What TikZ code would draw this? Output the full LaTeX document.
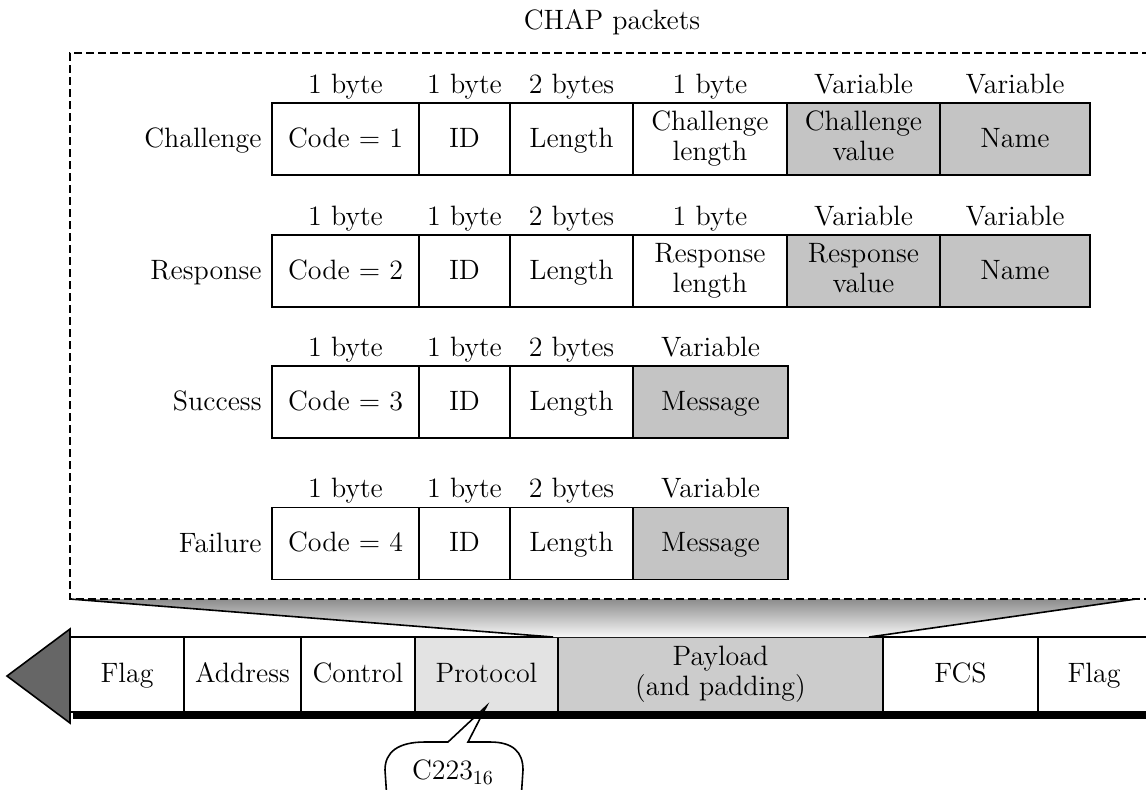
\documentclass[tikz,border=0pt]{standalone}
\usetikzlibrary{positioning}

\newcommand{\topstrut}{\rule{0pt}{11.5pt}}
\newcommand{\botstrut}{\rule[-3.5pt]{0pt}{3.5pt}}

\tikzstyle{field} = [rectangle, minimum height=36pt, inner sep=0pt, outer sep=0pt, text centered, align=center, draw=black, line width=0.8pt, fill=white, execute at begin node=\topstrut, execute at end node=\botstrut]
\tikzstyle{shaded} = [field, fill=black!23]
\tikzstyle{size} = [inner sep=0pt, text height=9.5pt, text depth=2.7pt]
\tikzstyle{rowname} = [inner sep=0pt, text height=9.5pt, text depth=2.7pt, yshift=-1pt]
\tikzstyle{frame} = [rectangle, minimum height=37.5pt, inner sep=0pt, outer sep=0pt, text centered, align=center, draw=black, line width=0.8pt, fill=white, execute at begin node=\topstrut, execute at end node=\botstrut]
\tikzstyle{dashbox} = [line width=0.9pt, dash pattern=on 4pt off 2pt]

\begin{document}
\begin{tikzpicture}[x=0.5pt, y=-0.5pt, font=\fontsize{14}{15}\selectfont]
    \useasboundingbox (0,0) rectangle (1146,789);
    \clip (0,0) rectangle (1146,789);

    \node (title) at (612,22) {CHAP packets};

    % Challenge
    \node (chCode)[field, minimum width=73.5pt] at (345.5,139) {Code = 1};
    \node (chID)[field, minimum width=45.5pt, right=0pt of chCode] {ID};
    \node (chLen)[field, minimum width=61.5pt, right=0pt of chID] {Length};
    \node (chClen)[field, minimum width=77pt, right=0pt of chLen] {Challenge\\length};
    \node (chCval)[shaded, minimum width=76.5pt, right=0pt of chClen] {Challenge\\value};
    \node (chName)[shaded, minimum width=75pt, right=0pt of chCval] {Name};
    \node (chTitle)[rowname, left=5pt of chCode] {Challenge};
    \node (chS1)[size, above=2pt of chCode] {1 byte};
    \node (chS2)[size, above=2pt of chID] {1 byte};
    \node (chS3)[size, above=2pt of chLen] {2 bytes};
    \node (chS4)[size, above=2pt of chClen] {1 byte};
    \node (chS5)[size, above=2pt of chCval] {Variable};
    \node (chS6)[size, above=2pt of chName] {Variable};

    % Response
    \node (reCode)[field, minimum width=73.5pt] at (345.5,271) {Code = 2};
    \node (reID)[field, minimum width=45.5pt, right=0pt of reCode] {ID};
    \node (reLen)[field, minimum width=61.5pt, right=0pt of reID] {Length};
    \node (reRlen)[field, minimum width=77pt, right=0pt of reLen] {Response\\length};
    \node (reRval)[shaded, minimum width=76.5pt, right=0pt of reRlen] {Response\\value};
    \node (reName)[shaded, minimum width=75pt, right=0pt of reRval] {Name};
    \node (reTitle)[rowname, left=5pt of reCode] {Response};
    \node (reS1)[size, above=2pt of reCode] {1 byte};
    \node (reS2)[size, above=2pt of reID] {1 byte};
    \node (reS3)[size, above=2pt of reLen] {2 bytes};
    \node (reS4)[size, above=2pt of reRlen] {1 byte};
    \node (reS5)[size, above=2pt of reRval] {Variable};
    \node (reS6)[size, above=2pt of reName] {Variable};

    % Success
    \node (suCode)[field, minimum width=73.5pt] at (345.5,402) {Code = 3};
    \node (suID)[field, minimum width=45.5pt, right=0pt of suCode] {ID};
    \node (suLen)[field, minimum width=61.5pt, right=0pt of suID] {Length};
    \node (suMsg)[shaded, minimum width=77.5pt, right=0pt of suLen] {Message};
    \node (suTitle)[rowname, left=5pt of suCode] {Success};
    \node (suS1)[size, above=2pt of suCode] {1 byte};
    \node (suS2)[size, above=2pt of suID] {1 byte};
    \node (suS3)[size, above=2pt of suLen] {2 bytes};
    \node (suS4)[size, above=2pt of suMsg] {Variable};

    % Failure
    \node (faCode)[field, minimum width=73.5pt] at (345.5,543.5) {Code = 4};
    \node (faID)[field, minimum width=45.5pt, right=0pt of faCode] {ID};
    \node (faLen)[field, minimum width=61.5pt, right=0pt of faID] {Length};
    \node (faMsg)[shaded, minimum width=77.5pt, right=0pt of faLen] {Message};
    \node (faTitle)[rowname, left=5pt of faCode] {Failure};
    \node (faS1)[size, above=2pt of faCode] {1 byte};
    \node (faS2)[size, above=2pt of faID] {1 byte};
    \node (faS3)[size, above=2pt of faLen] {2 bytes};
    \node (faS4)[size, above=2pt of faMsg] {Variable};

    % PPP frame
    \node (flagA)[frame, minimum width=57pt, anchor=north west] at (70,637) {Flag};
    \node (address)[frame, minimum width=58.5pt, right=0pt of flagA] {Address};
    \node (control)[frame, minimum width=57pt, right=0pt of address] {Control};
    \node (proto)[frame, minimum width=71.5pt, fill=black!11, right=0pt of control] {Protocol};
    \node (payload)[frame, minimum width=162.5pt, fill=black!20, right=0pt of proto] {Payload\\(and padding)};
    \node (fcs)[frame, minimum width=77.5pt, right=0pt of payload] {FCS};
    \node (flagB)[frame, minimum width=56pt, right=0pt of fcs] {Flag};

    \coordinate (boxSW) at (70,599);
    \coordinate (boxSE) at (1136,599);

    % funnel from the packets down to the payload
    \shade[top color=black!45, bottom color=black!3] (boxSW) -- (boxSE) -- ([xshift=-7pt]payload.north east) -- ([xshift=-2.5pt]payload.north west) -- cycle;
    \draw[line width=0.8pt] (boxSW) -- ([xshift=-2.5pt]payload.north west);
    \draw[line width=0.8pt] (boxSE) -- ([xshift=-7pt]payload.north east);
    \draw[dashbox] (1150,53) -- (70,53) -- (boxSW) -- (1150,599);

    \draw[line width=3.5pt] (73,715.5) -- (1150,715.5);
    \filldraw[fill=black!60, line width=0.8pt] (70,629) -- (7,676) -- (70,723) -- cycle;

    % callout
    \coordinate (tip) at ([yshift=3pt]proto.south);
    \draw[line width=0.8pt] (387,800) -- (385,770) .. controls (385,752) and (398,742) .. (425,742) -- (448,742) -- (tip) -- (468,742) -- (490,742) .. controls (513,742) and (523,752) .. (523,770) -- (521,800);
    \node (hexval) at (453,772) {C223$_{16}$};
\end{tikzpicture}
\end{document}
